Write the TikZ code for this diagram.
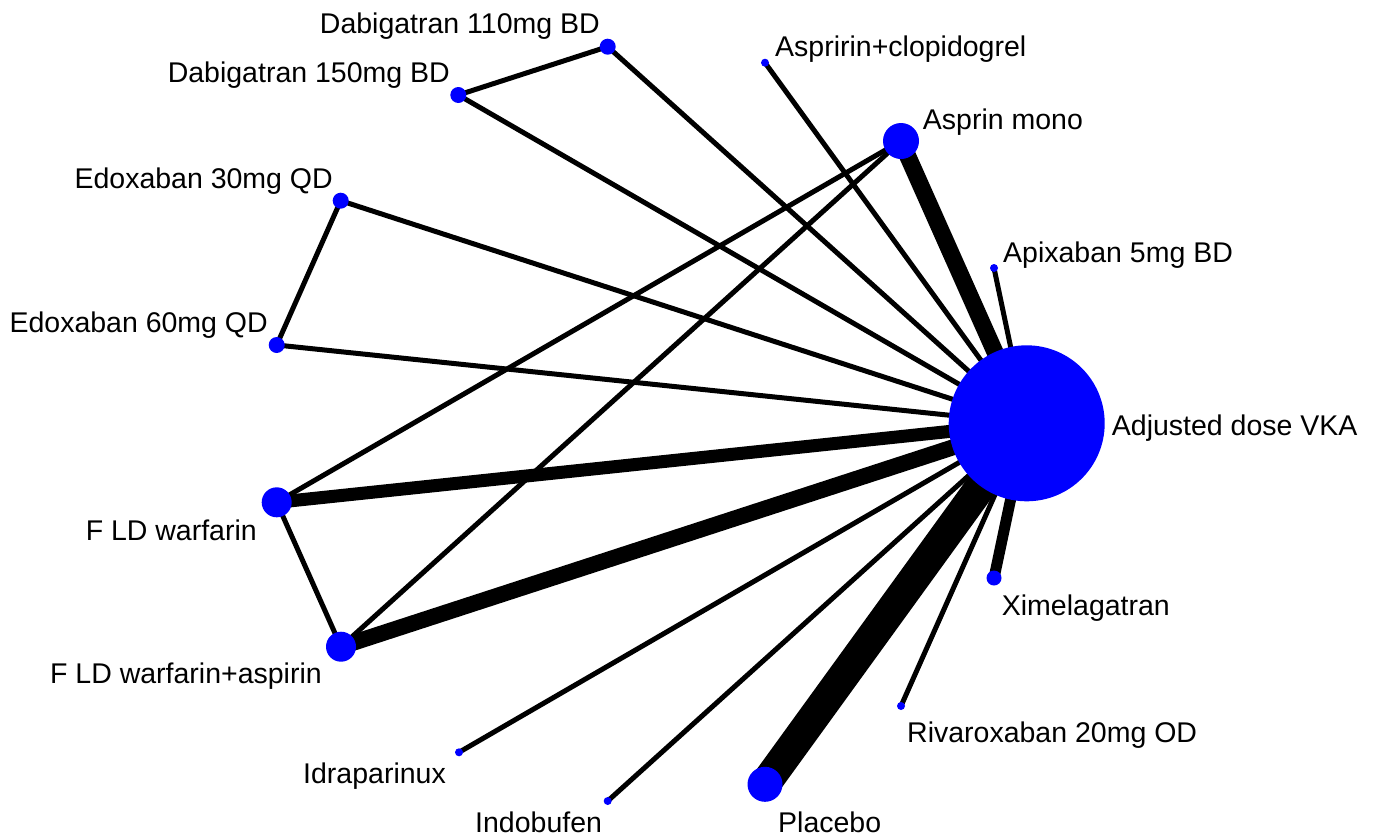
\documentclass[tikz,border=0pt]{standalone}
\usepackage{fontspec}
\setmainfont{Liberation Sans}
\usetikzlibrary{backgrounds}
\definecolor{nodeblue}{RGB}{0,0,255}
\begin{document}
\begin{tikzpicture}[x=1pt,y=-1pt,
  trt/.style={circle,fill=nodeblue,draw=none,inner sep=0pt,minimum size=#1},
  lab/.style={font=\fontsize{28.5}{34}\selectfont,inner sep=0pt,text=black},
  edge/.style={draw=black,line width=#1,line cap=butt}]
\useasboundingbox (0,0) rectangle (1376,836);
% treatment nodes
\node[trt=16]  (d110) at (607.7,46.7) {};
\node[trt=16]  (d150) at (458.3,95) {};
\node[trt=8]   (aclo) at (765,62.7) {};
\node[trt=36]  (amon) at (901,141) {};
\node[trt=16]  (e30)  at (340.7,200.7) {};
\node[trt=8]   (apix) at (994,268) {};
\node[trt=16]  (e60)  at (276.7,345) {};
\node[trt=156] (vka)  at (1026.7,423.3) {};
\node[trt=30]  (fldw) at (276.7,502.3) {};
\node[trt=30]  (fldwa) at (341,646.7) {};
\node[trt=15]  (xim)  at (994,578) {};
\node[trt=8]   (riva) at (901,706) {};
\node[trt=8]   (idra) at (459,752.3) {};
\node[trt=8]   (indo) at (607.7,801) {};
\node[trt=35]  (plac) at (765,784.3) {};
% labels
\node[lab,anchor=base east] (ld110) at (600,33) {Dabigatran 110mg BD};
\node[lab,anchor=base east] (ld150) at (450,82) {Dabigatran 150mg BD};
\node[lab,anchor=base west] (laclo) at (775,56) {Aspririn+clopidogrel};
\node[lab,anchor=base west] (lamon) at (922.7,129.3) {Asprin mono};
\node[lab,anchor=base east] (le30)  at (333,188.3) {Edoxaban 30mg QD};
\node[lab,anchor=base west] (lapix) at (1003,262.7) {Apixaban 5mg BD};
\node[lab,anchor=base east] (le60)  at (268,332.7) {Edoxaban 60mg QD};
\node[lab,anchor=base west] (lvka)  at (1111.7,435) {Adjusted dose VKA};
\node[lab,anchor=base east] (lfldw) at (257,540) {F LD warfarin};
\node[lab,anchor=base east] (lfldwa) at (322,683) {F LD warfarin+aspirin};
\node[lab,anchor=base west] (lxim)  at (1001.7,615) {Ximelagatran};
\node[lab,anchor=base west] (lriva) at (907,742) {Rivaroxaban 20mg OD};
\node[lab,anchor=base east] (lidra) at (446,783) {Idraparinux};
\node[lab,anchor=base west] (lindo) at (475,832) {Indobufen};
\node[lab,anchor=base west] (lplac) at (778,832) {Placebo};
% edges
\begin{scope}[on background layer]
\draw[edge=5]  (d110.center) -- (d150.center);
\draw[edge=5]  (d110.center) -- (vka.center);
\draw[edge=5]  (d150.center) -- (vka.center);
\draw[edge=5]  (aclo.center) -- (vka.center);
\draw[edge=17] (amon.center) -- (vka.center);
\draw[edge=5]  (amon.center) -- (fldw.center);
\draw[edge=5]  (amon.center) -- (fldwa.center);
\draw[edge=5]  (e30.center) -- (vka.center);
\draw[edge=5]  (e30.center) -- (e60.center);
\draw[edge=5]  (apix.center) -- (vka.center);
\draw[edge=5]  (e60.center) -- (vka.center);
\draw[edge=13] (fldw.center) -- (vka.center);
\draw[edge=5]  (fldw.center) -- (fldwa.center);
\draw[edge=16] (fldwa.center) -- (vka.center);
\draw[edge=11] (xim.center) -- (vka.center);
\draw[edge=5]  (riva.center) -- (vka.center);
\draw[edge=5]  (idra.center) -- (vka.center);
\draw[edge=5]  (indo.center) -- (vka.center);
\draw[edge=31] (plac.center) -- (vka.center);
\end{scope}
\end{tikzpicture}
\end{document}
